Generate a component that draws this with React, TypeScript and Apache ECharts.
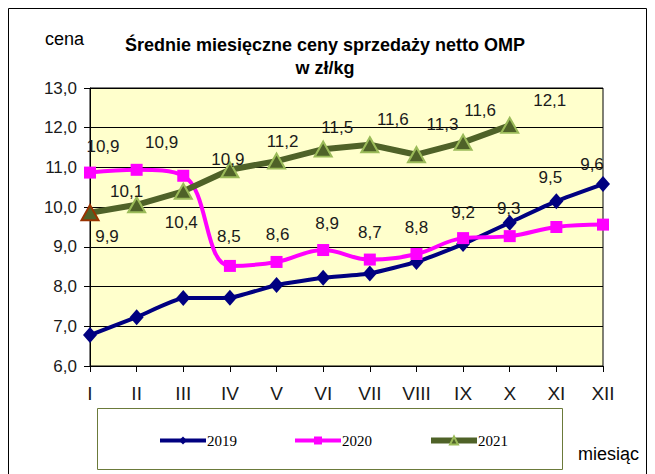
import React, { useEffect, useRef } from "react";
import * as echarts from "echarts";

const months = ["I", "II", "III", "IV", "V", "VI", "VII", "VIII", "IX", "X", "XI", "XII"];
const seriesNames = ["2019", "2020", "2021"];
const values2019 = [6.78, 7.23, 7.71, 7.72, 8.04, 8.22, 8.33, 8.62, 9.07, 9.61, 10.15, 10.58];
const values2020 = [10.87, 10.94, 10.79, 8.52, 8.62, 8.92, 8.68, 8.82, 9.22, 9.27, 9.5, 9.56];
const values2021 = [9.86, 10.06, 10.4, 10.94, 11.16, 11.46, 11.57, 11.32, 11.63, 12.06];
const yTicks = { min: 6, max: 13, interval: 1 };
// label offsets (px) relative to point centre
const offsets2020: ([number, number] | null)[] = [
  [13, -26], [25, -27], null, [-1, -29], [1, -27], [4, -27], [0, -27], [0, -27], [0, -26], [-1, -28], [-6, -50], [-11, -60],
];
const offsets2021: [number, number][] = [
  [17, 24], [-10, -13], [-2, 31], [-2, -10], [6, -20], [14, -22], [23, -25], [26, -30], [17, -32], [40, -25],
];

const FONT = "'Liberation Sans', Arial, sans-serif";
const fmt = (v: number) => v.toFixed(1).replace(".", ",");

export default function App() {
  const ref = useRef<HTMLDivElement>(null);
  useEffect(() => {
    if (!ref.current) return;
    const chart = echarts.init(ref.current, undefined, { renderer: "svg" });
    const labelBase = {
      show: true,
      position: "inside",
      align: "center",
      verticalAlign: "middle",
      color: "#1a1a1a",
      fontSize: 17,
      fontFamily: FONT,
      formatter: (p: any) => fmt(p.value),
    };
    const d2020 = values2020.map((v, i) => {
      const o = offsets2020[i];
      return o ? { value: v, label: { ...labelBase, offset: o } } : { value: v, label: { show: false } };
    });
    const d2021 = values2021.map((v, i) => {
      const item: any = { value: v, label: { ...labelBase, offset: offsets2021[i] } };
      if (i === 0) item.itemStyle = { borderColor: "#993300" };
      return item;
    });
    chart.setOption({
      animation: false,
      title: {
        text: "Średnie miesięczne ceny sprzedaży netto OMP\nw zł/kg",
        left: 320,
        top: 28,
        textAlign: "center",
        textStyle: { fontSize: 18, fontWeight: "bold", fontFamily: FONT, color: "#000", lineHeight: 23 },
      },
      graphic: [
        { type: "rect", shape: { x: 8.5, y: 8.5, width: 638, height: 490 }, style: { fill: "none", stroke: "#000", lineWidth: 1 }, silent: true },
        { type: "rect", shape: { x: 97.5, y: 408.5, width: 465, height: 61 }, style: { fill: "#fff", stroke: "#6b7a3a", lineWidth: 1 }, silent: true, z: -1 },
        { type: "text", x: 45, y: 30, style: { text: "cena", fontSize: 18, fontFamily: FONT, fill: "#000" } },
        { type: "text", x: 578, y: 445, style: { text: "miesiąc", fontSize: 18, fontFamily: FONT, fill: "#000" } },
      ],
      legend: {
        data: seriesNames,
        left: 153,
        top: 428,
        itemWidth: 46,
        itemHeight: 10,
        itemGap: 56,
        textStyle: { fontFamily: "'Liberation Serif', 'Times New Roman', serif", fontSize: 15, color: "#000", padding: [0, 0, 0, -4] },
        lineStyle: { width: "inherit" },
      },
      grid: {
        left: 90,
        right: 52,
        top: 88,
        bottom: 108,
        show: true,
        backgroundColor: "#FFFFCC",
        borderColor: "#000",
        borderWidth: 1,
      },
      xAxis: {
        type: "category",
        data: months,
        boundaryGap: false,
        axisLine: { lineStyle: { color: "#000", width: 1 } },
        axisTick: { show: true, length: 6, lineStyle: { color: "#000" } },
        axisLabel: { fontSize: 19, fontFamily: FONT, color: "#1a1a1a", margin: 18 },
        splitLine: { show: false },
      },
      yAxis: {
        type: "value",
        min: yTicks.min,
        max: yTicks.max,
        interval: yTicks.interval,
        axisLine: { show: true, lineStyle: { color: "#000", width: 1 } },
        axisTick: { show: true, length: 6, lineStyle: { color: "#000" } },
        axisLabel: { fontSize: 17, fontFamily: FONT, color: "#1a1a1a", margin: 13, formatter: (v: number) => fmt(v) },
        splitLine: { show: true, lineStyle: { color: "#000", width: 1 } },
      },
      series: [
        {
          name: seriesNames[0],
          type: "line",
          data: values2019,
          smooth: 0.15,
          symbol: "diamond",
          symbolSize: [14, 16],
          lineStyle: { color: "#000080", width: 4 },
          itemStyle: { color: "#000080" },
          z: 3,
        },
        {
          name: seriesNames[1],
          type: "line",
          data: d2020,
          smooth: 0.4,
          symbol: "rect",
          symbolSize: 12,
          lineStyle: { color: "#FF00FF", width: 4 },
          itemStyle: { color: "#FF00FF" },
          z: 4,
        },
        {
          name: seriesNames[2],
          type: "line",
          data: d2021,
          symbol: "triangle",
          symbolSize: [17, 15],
          lineStyle: { color: "#4F6228", width: 6 },
          itemStyle: { color: "#4F6228", borderColor: "#9BBB59", borderWidth: 2 },
          z: 5,
        },
      ],
    });
    return () => chart.dispose();
  }, []);
  return <div ref={ref} style={{ position: "absolute", left: 0, top: 0, width: 655, height: 474 }} />;
}
